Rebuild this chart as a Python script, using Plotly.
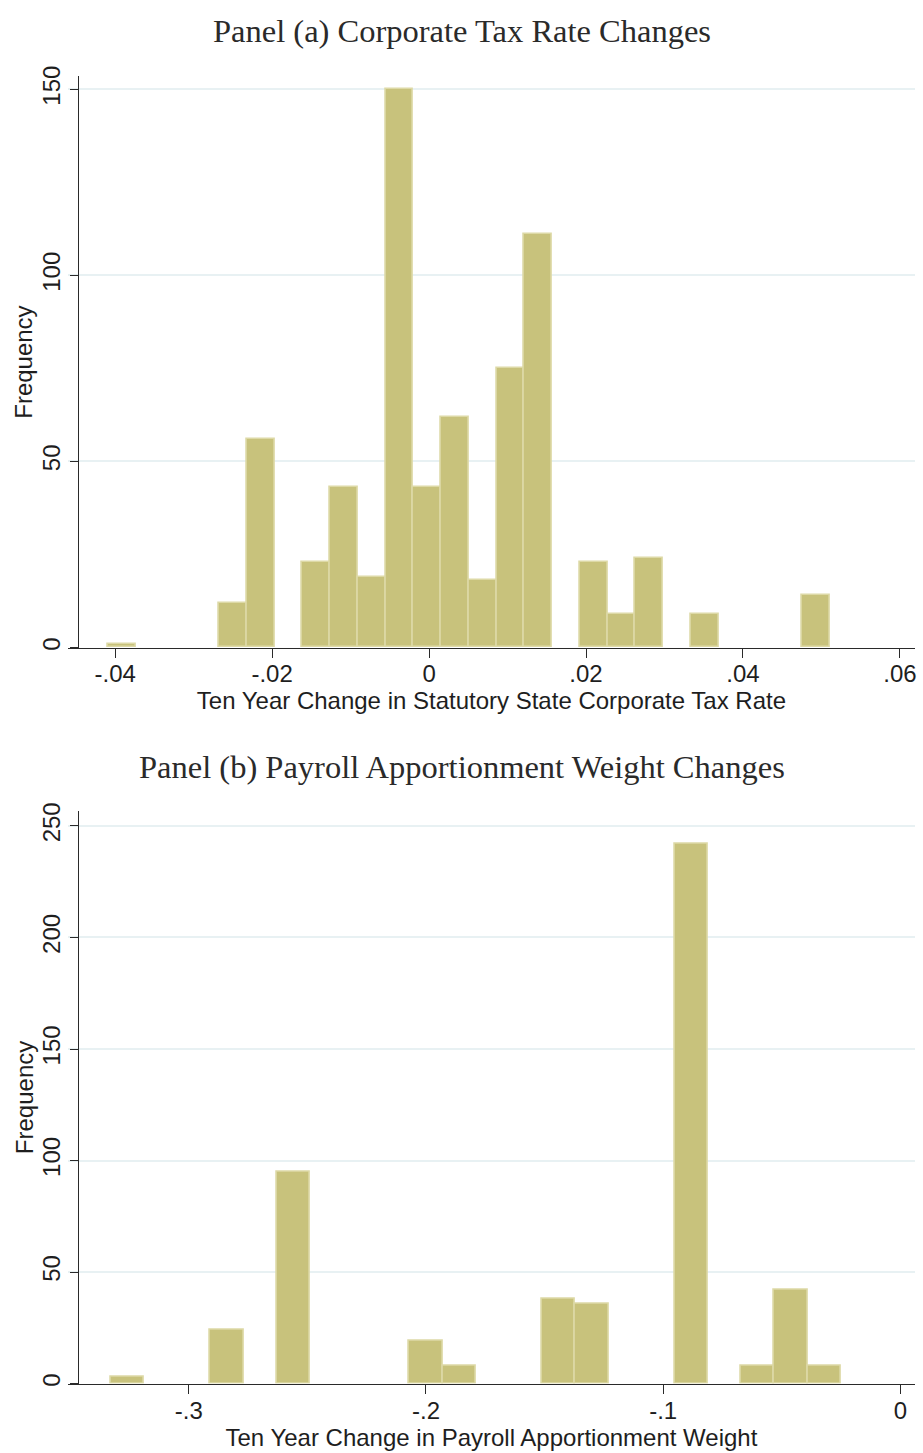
import plotly.graph_objects as go

W, H = 923, 1453

# ---------------- data ----------------
# Panel (a): histogram of ten-year change in statutory state corporate tax rate
a_bin_start = -0.04093
a_bin_width = 0.003537
a_counts = [1, 0, 0, 0, 12, 56, 0, 23, 43, 19, 150, 43, 62, 18, 75, 111, 0,
            23, 9, 24, 0, 9, 0, 0, 0, 14]
a_xticks = [-0.04, -0.02, 0, 0.02, 0.04, 0.06]
a_xticklabels = ["-.04", "-.02", "0", ".02", ".04", ".06"]
a_yticks = [0, 50, 100, 150]
a_yticklabels = ["0", "50", "100", "150"]

# Panel (b): histogram of ten-year change in payroll apportionment weight
b_bin_start = -0.33292
b_bin_width = 0.013988
b_counts = [3, 0, 0, 24, 0, 95, 0, 0, 0, 19, 8, 0, 0, 38, 36, 0, 0, 242, 0,
            8, 42, 8]
b_xticks = [-0.3, -0.2, -0.1, 0]
b_xticklabels = ["-.3", "-.2", "-.1", "0"]
b_yticks = [0, 50, 100, 150, 200, 250]
b_yticklabels = ["0", "50", "100", "150", "200", "250"]

titles = ["Panel (a) Corporate Tax Rate Changes",
          "Panel (b) Payroll Apportionment Weight Changes"]
xtitles = ["Ten Year Change in Statutory State Corporate Tax Rate",
           "Ten Year Change in Payroll Apportionment Weight"]
ytitle = "Frequency"

# ---------------- style ----------------
FILL = "rgb(200,194,124)"
EDGE = "rgb(221,217,166)"
GRID = "rgb(232,241,243)"
AXC = "#2a2a2a"
TXT = "#1e1e1e"
SANS = "Liberation Sans, Arial, sans-serif"
SERIF = "Liberation Serif, Times New Roman, serif"


def bars(start, width, counts):
    xs, ys = [], []
    for i, c in enumerate(counts):
        if c > 0:
            xs.append(start + width * (i + 0.5))
            ys.append(c)
    return xs, ys


fig = go.Figure()
ax, ay = bars(a_bin_start, a_bin_width, a_counts)
fig.add_trace(go.Bar(x=ax, y=ay, width=a_bin_width, xaxis="x", yaxis="y",
                     marker=dict(color=FILL, line=dict(color=EDGE, width=1.6))))
bx, by = bars(b_bin_start, b_bin_width, b_counts)
fig.add_trace(go.Bar(x=bx, y=by, width=b_bin_width, xaxis="x2", yaxis="y2",
                     marker=dict(color=FILL, line=dict(color=EDGE, width=1.6))))


# reference pixel geometry -> paper fractions
def px(v):
    return v / W


def py(v):
    return 1 - v / H


x_left, x_right, y_axis_px = 68, 917, 78.3
a_top, a_bot = 66.7, 643.3
b_top, b_bot = 808, 1386

common_x = dict(showgrid=False, zeroline=False, showline=True, linecolor=AXC,
                linewidth=1.3, ticks="outside", ticklen=9, tickwidth=1.3,
                tickcolor=AXC, tickfont=dict(family=SANS, size=24, color=TXT),
                title_font=dict(family=SANS, size=24, color=TXT),
                ticklabelstandoff=-4, fixedrange=True)
common_y = dict(showgrid=True, gridcolor=GRID, gridwidth=1.5, zeroline=False,
                showline=True, linecolor=AXC, linewidth=1.3, ticks="outside",
                ticklen=8, tickwidth=1.3, tickcolor=AXC, tickangle=-90,
                tickfont=dict(family=SANS, size=24, color=TXT),
                fixedrange=True)

# pixel mapping of the data axes in the reference
a_scale, a_zero = 7865.0, 430.0
b_scale, b_zero = 2377.0, 902.3

fig.update_layout(
    width=W, height=H, margin=dict(l=0, r=0, t=0, b=0),
    paper_bgcolor="white", plot_bgcolor="white", showlegend=False,
    bargap=0,
    xaxis=dict(common_x, domain=[px(x_left), px(x_right)], anchor="y",
               range=[(x_left - a_zero) / a_scale, (x_right - a_zero) / a_scale],
               tickvals=a_xticks, ticktext=a_xticklabels,
               title=dict(text=xtitles[0], standoff=0)),
    yaxis=dict(common_y, domain=[py(a_bot), py(a_top)], anchor="free",
               position=px(y_axis_px),
               range=[0, 150 * (a_bot - a_top) / (a_bot - 80.0)],
               tickvals=a_yticks, ticktext=a_yticklabels),
    xaxis2=dict(common_x, domain=[px(x_left), px(x_right)], anchor="y2",
                range=[(x_left - b_zero) / b_scale, (x_right - b_zero) / b_scale],
                tickvals=b_xticks, ticktext=b_xticklabels,
                title=dict(text=xtitles[1], standoff=0)),
    yaxis2=dict(common_y, domain=[py(b_bot), py(b_top)], anchor="free",
                position=px(y_axis_px),
                range=[0, 250 * (b_bot - b_top) / (b_bot - 823.3)],
                tickvals=b_yticks, ticktext=b_yticklabels),
    annotations=[
        dict(text=titles[0], x=px(463), y=py(21), xref="paper", yref="paper",
             xanchor="center", yanchor="middle", showarrow=False,
             font=dict(family=SERIF, size=32.5, color="#2a2a2a")),
        dict(text=titles[1], x=px(463), y=py(764), xref="paper", yref="paper",
             xanchor="center", yanchor="middle", showarrow=False,
             font=dict(family=SERIF, size=32.5, color="#2a2a2a")),
        dict(text=ytitle, x=px(24), y=py((a_top + a_bot) / 2), xref="paper",
             yref="paper", xanchor="center", yanchor="middle", textangle=-90,
             showarrow=False, font=dict(family=SANS, size=24, color=TXT)),
        dict(text=ytitle, x=px(24), y=py((b_top + b_bot) / 2), xref="paper",
             yref="paper", xanchor="center", yanchor="middle", textangle=-90,
             showarrow=False, font=dict(family=SANS, size=24, color=TXT)),
    ],
)

# remove the browser's default page margin so the figure fills the window
fig.write_html(
    "out.html",
    config={"displayModeBar": False},
    post_script="document.body.style.margin='0';"
                "document.documentElement.style.overflow='hidden';",
)
